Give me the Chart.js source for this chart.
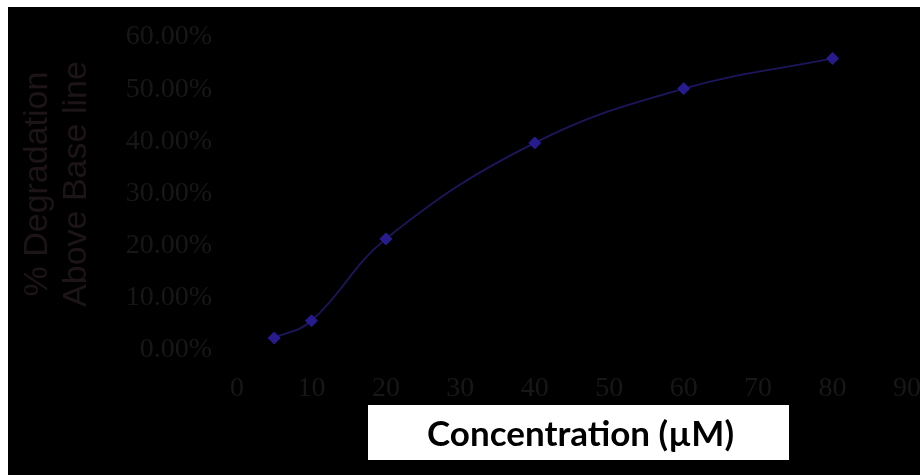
<!DOCTYPE html>
<html>
<head>
<meta charset="utf-8">
<script src="https://cdn.jsdelivr.net/npm/chart.js@4/dist/chart.umd.min.js"></script>
<style>
  html, body { margin: 0; padding: 0; background: #ffffff; }
  #wrap { position: absolute; left: 8px; top: 7px; width: 912px; height: 468px; background: #000000; }
  canvas { display: block; }
</style>
</head>
<body>
<div id="wrap"><canvas id="c" width="912" height="468"></canvas></div>
<script>
// ---- data ----
const concentrations = [5, 10, 20, 40, 60, 80];          // µM
const degradation = [0.023, 0.056, 0.213, 0.397, 0.501, 0.559]; // fraction above baseline
const xTickValues = [0, 10, 20, 30, 40, 50, 60, 70, 80, 90];
const yTickValues = [0, 0.1, 0.2, 0.3, 0.4, 0.5, 0.6];
const xTitle = '  Concentration (\u00B5M)';
const yTitleLines = ['  % Degradation', '  Above Base line'];

const points = concentrations.map((c, i) => ({ x: c, y: degradation[i] }));

const titleBox = {
  id: 'titleBox',
  beforeDraw(chart) {
    const ctx = chart.ctx;
    ctx.save();
    ctx.fillStyle = '#ffffff';
    ctx.fillRect(360, 398, 421, 55);
    ctx.restore();
  }
};

function noExtraPadding(scale) {
  scale.paddingTop = 0;
  scale.paddingBottom = 0;
  scale.paddingLeft = 0;
  scale.paddingRight = 0;
}

const tickColor = '#171717';

new Chart(document.getElementById('c'), {
  type: 'scatter',
  data: {
    datasets: [{
      data: points,
      showLine: true,
      tension: 0.4,
      borderColor: '#1c165c',
      borderWidth: 1.8,
      pointStyle: 'rectRot',
      pointRadius: 6,
      pointBackgroundColor: '#271b8e',
      pointBorderColor: '#271b8e',
      pointBorderWidth: 1
    }]
  },
  options: {
    responsive: false,
    animation: false,
    devicePixelRatio: 1,
    layout: { padding: { left: 0, right: 13, top: 30, bottom: 0 } },
    plugins: { legend: { display: false }, tooltip: { enabled: false } },
    scales: {
      x: {
        type: 'linear',
        min: 0, max: 90,
        afterBuildTicks(scale) { scale.ticks = xTickValues.map(v => ({ value: v })); },
        afterFit(scale) { scale.height = 125; noExtraPadding(scale); },
        grid: { display: false, drawTicks: false },
        border: { display: false },
        ticks: {
          color: tickColor,
          padding: 22,
          font: { family: '"Liberation Serif", serif', size: 28 },
          callback: v => String(v)
        },
        title: {
          display: true,
          text: xTitle,
          color: '#000000',
          padding: { top: 0, bottom: 19 },
          font: { family: 'Lato, "Open Sans", sans-serif', size: 35, weight: 'bold', lineHeight: 1.2 }
        }
      },
      y: {
        min: 0, max: 0.6,
        afterBuildTicks(scale) { scale.ticks = yTickValues.map(v => ({ value: v })); },
        afterFit(scale) { scale.width = 229; noExtraPadding(scale); },
        grid: { display: false, drawTicks: false },
        border: { display: false },
        ticks: {
          color: tickColor,
          padding: 25,
          font: { family: '"Liberation Serif", serif', size: 28 },
          callback: v => (v * 100).toFixed(2) + '%'
        },
        title: {
          display: true,
          text: yTitleLines,
          color: '#1d1418',
          padding: { top: 10, bottom: 0 },
          font: { family: '"Liberation Sans", Arial, sans-serif', size: 34, lineHeight: '39px' }
        }
      }
    }
  },
  plugins: [titleBox]
});
</script>
</body>
</html>
